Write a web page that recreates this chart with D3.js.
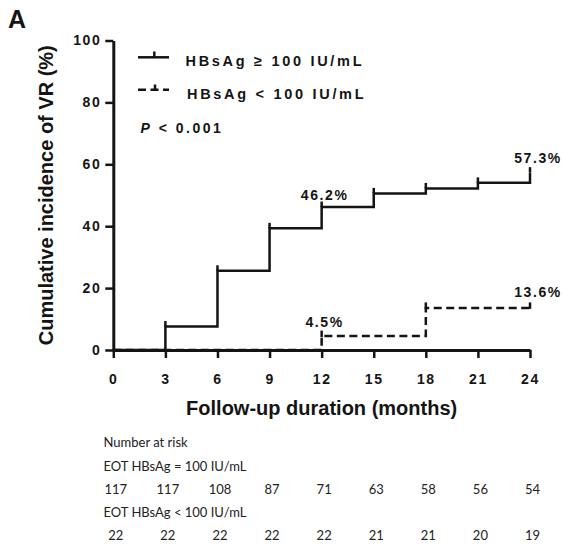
<!DOCTYPE html>
<html><head><meta charset="utf-8">
<script src="https://cdn.jsdelivr.net/npm/d3@7"></script>
<style>body{margin:0;background:#fff}svg{display:block}</style>
</head><body>
<svg id="c" width="563" height="552"></svg>
<script>
// ---- data ----
const months = [0, 3, 6, 9, 12, 15, 18, 21, 24];
const highValues = [0, 7.6, 25.6, 39.3, 46.2, 50.6, 52.2, 54.0, 57.3];
const lowValues = [0, 0, 0, 0, 4.5, 4.5, 13.6, 13.6, 13.6];
const highCensor = [3, 6, 9, 12, 15, 18, 21, 24];
const lowCensor = [12, 18, 24];
const yTicks = [0, 20, 40, 60, 80, 100];
const xTicks = [0, 3, 6, 9, 12, 15, 18, 21, 24];
const highLabelMonths = [12, 24];
const highLabelValues = [46.2, 57.3];
const highLabelTexts = ["46.2%", "57.3%"];
const lowLabelMonths = [12, 24];
const lowLabelValues = [4.5, 13.6];
const lowLabelTexts = ["4.5%", "13.6%"];
const legendLabels = ["HBsAg \u2265 100 IU/mL", "HBsAg < 100 IU/mL"];
const pText = "< 0.001";
const riskTitles = ["Number at risk", "EOT HBsAg = 100 IU/mL", "EOT HBsAg < 100 IU/mL"];
const riskHigh = [117, 117, 108, 87, 71, 63, 58, 56, 54];
const riskLow = [22, 22, 22, 22, 22, 21, 21, 20, 19];

// ---- setup ----
const ink = "#141414";
const boldFont = "'Liberation Sans', Arial, sans-serif";
const svg = d3.select("#c");
const x = d3.scaleLinear().domain([0, 24]).range([113.3, 530]);
const y = d3.scaleLinear().domain([0, 100]).range([350, 40.5]);

// panel letter
svg.append("text").attr("x", 8).attr("y", 28)
  .attr("font-family", boldFont).attr("font-weight", "bold").attr("font-size", 25)
  .attr("fill", ink).text("A");

// axes
const yAxis = svg.append("g").attr("transform", `translate(${x(0)},0)`)
  .call(d3.axisLeft(y).tickValues(yTicks).tickSize(8).tickSizeOuter(0).tickPadding(4));
const xAxis = svg.append("g").attr("transform", `translate(0,${y(0)})`)
  .call(d3.axisBottom(x).tickValues(xTicks).tickSize(8).tickSizeOuter(0).tickPadding(16));
[yAxis, xAxis].forEach(g => {
  g.select(".domain").attr("stroke", ink).attr("stroke-width", 3);
  g.selectAll(".tick line").attr("stroke", ink).attr("stroke-width", 2.5);
  g.selectAll(".tick text").attr("fill", ink)
    .attr("font-family", boldFont).attr("font-weight", "bold")
    .attr("font-size", 14).attr("letter-spacing", "1.6px");
});

// axis titles
svg.append("text").attr("x", x(12)).attr("y", 415)
  .attr("text-anchor", "middle").attr("font-family", boldFont)
  .attr("font-weight", "bold").attr("font-size", 20).attr("fill", ink)
  .text("Follow-up duration (months)");
svg.append("text").attr("transform", `translate(53,${y(50)})rotate(-90)`)
  .attr("text-anchor", "middle").attr("font-family", boldFont)
  .attr("font-weight", "bold").attr("font-size", 20).attr("fill", ink)
  .text("Cumulative incidence of VR (%)");

// curves
const stepLine = d3.line().x(d => x(d[0])).y(d => y(d[1])).curve(d3.curveStepAfter);
const highPts = months.map((m, i) => [m, highValues[i]]);
const lowPts = months.map((m, i) => [m, lowValues[i]]);
const tickH = 5.5;

svg.append("path").attr("d", stepLine(lowPts)).attr("fill", "none")
  .attr("stroke", ink).attr("stroke-width", 2.5).attr("stroke-dasharray", "8,4.5");
svg.append("path").attr("d", stepLine(highPts)).attr("fill", "none")
  .attr("stroke", ink).attr("stroke-width", 2.5);

svg.selectAll(".hc").data(highCensor).join("line")
  .attr("x1", m => x(m)).attr("x2", m => x(m))
  .attr("y1", m => y(highValues[months.indexOf(m)]))
  .attr("y2", m => y(highValues[months.indexOf(m)]) - tickH)
  .attr("stroke", ink).attr("stroke-width", 2.5);
svg.selectAll(".lc").data(lowCensor).join("line")
  .attr("x1", m => x(m)).attr("x2", m => x(m))
  .attr("y1", m => y(lowValues[months.indexOf(m)]) + 1)
  .attr("y2", m => y(lowValues[months.indexOf(m)]) - tickH)
  .attr("stroke", ink).attr("stroke-width", 2.5);

// value labels
const labelNudge = [3, 8];
function valueLabels(ms, vs, ts, lift) {
  ms.forEach((m, i) => {
    svg.append("text").attr("x", x(m) + labelNudge[i]).attr("y", y(vs[i]) - lift[i])
      .attr("text-anchor", "middle").attr("font-family", boldFont)
      .attr("font-weight", "bold").attr("font-size", 14)
      .attr("letter-spacing", "1.6px").attr("fill", ink).text(ts[i]);
  });
}
valueLabels(highLabelMonths, highLabelValues, highLabelTexts, [7.5, 9.5]);
valueLabels(lowLabelMonths, lowLabelValues, lowLabelTexts, [9, 11]);

// legend
const lg = svg.append("g");
lg.append("line").attr("x1", 138).attr("x2", 169).attr("y1", 57.3).attr("y2", 57.3)
  .attr("stroke", ink).attr("stroke-width", 2.5);
lg.append("line").attr("x1", 154.3).attr("x2", 154.3).attr("y1", 57.3).attr("y2", 51.5)
  .attr("stroke", ink).attr("stroke-width", 2.5);
lg.append("line").attr("x1", 138).attr("x2", 169).attr("y1", 89.8).attr("y2", 89.8)
  .attr("stroke", ink).attr("stroke-width", 2.5).attr("stroke-dasharray", "8,4.5");
lg.append("line").attr("x1", 155).attr("x2", 155).attr("y1", 89.8).attr("y2", 84.5)
  .attr("stroke", ink).attr("stroke-width", 2.5);
legendLabels.forEach((t, i) => {
  lg.append("text").attr("x", 185.5 + i * 1.5).attr("y", 66 + i * 32.5)
    .attr("font-family", boldFont).attr("font-weight", "bold").attr("font-size", 14.5)
    .attr("letter-spacing", "2.7px").attr("fill", ink).text(t);
});
const pt = lg.append("text").attr("x", 140.5).attr("y", 132.5)
  .attr("font-family", boldFont).attr("font-weight", "bold").attr("font-size", 14)
  .attr("letter-spacing", "2.5px").attr("fill", ink);
pt.append("tspan").attr("font-style", "italic").text("P");
pt.append("tspan").text(" " + pText);

// number at risk table
const tableFont = "Lato, 'Open Sans', sans-serif";
const rowY = [447.3, 470.5, 493.7, 517, 540.2];
[0, 1].forEach(i => {
  svg.append("text").attr("x", 103.5).attr("y", rowY[i])
    .attr("font-family", tableFont).attr("font-size", 13).attr("fill", "#222")
    .text(riskTitles[i]);
});
svg.append("text").attr("x", 103.5).attr("y", rowY[3])
  .attr("font-family", tableFont).attr("font-size", 13).attr("fill", "#222")
  .text(riskTitles[2]);
[[riskHigh, rowY[2]], [riskLow, rowY[4]]].forEach(([vals, yy]) => {
  svg.append("g").selectAll("text").data(vals).join("text")
    .attr("x", (d, i) => x(months[i]) + 2.5).attr("y", yy)
    .attr("text-anchor", "middle").attr("font-family", tableFont)
    .attr("font-size", 13).attr("fill", "#222").text(d => d);
});
</script>
</body></html>
